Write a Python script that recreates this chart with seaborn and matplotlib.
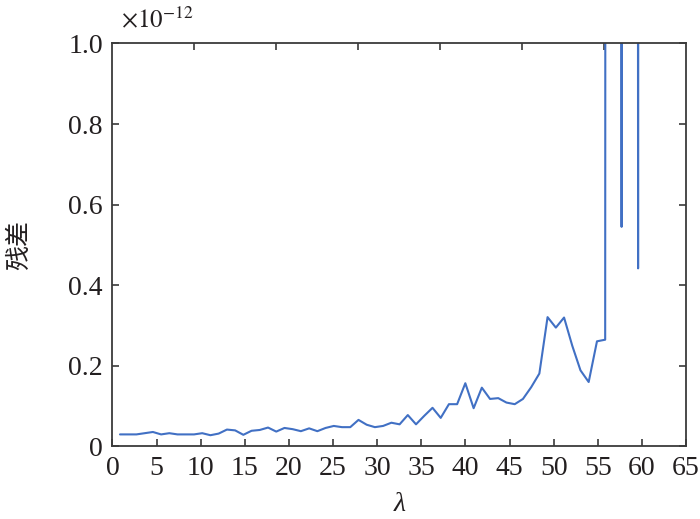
import numpy as np
import pandas as pd
import matplotlib
matplotlib.use("Agg")
import matplotlib.pyplot as plt
import seaborn as sns

# lambda samples (x) and residual values in units of 1e-12
lam = [0.85, 1.78, 2.71, 3.65, 4.58, 5.51, 6.44, 7.37, 8.31, 9.24,
       10.17, 11.10, 12.03, 12.97, 13.90, 14.83, 15.76, 16.69, 17.63, 18.56,
       19.49, 20.42, 21.35, 22.29, 23.22, 24.15, 25.08, 26.01, 26.95, 27.88,
       28.81, 29.74, 30.67, 31.61, 32.54, 33.47, 34.40, 35.33, 36.27, 37.20,
       38.13, 39.06, 39.99, 40.93, 41.86, 42.79, 43.72, 44.65, 45.59, 46.52,
       47.45, 48.38, 49.31, 50.25, 51.18, 52.11, 53.04, 53.97, 54.91, 55.84,
       56.77, 57.70, 58.63, 59.57, 60.50]
residual = [0.030, 0.030, 0.030, 0.033, 0.036, 0.030, 0.033, 0.030, 0.030, 0.030,
            0.033, 0.028, 0.032, 0.042, 0.040, 0.029, 0.039, 0.041, 0.047, 0.037,
            0.046, 0.043, 0.038, 0.045, 0.038, 0.046, 0.051, 0.048, 0.048, 0.066,
            0.054, 0.048, 0.051, 0.059, 0.055, 0.078, 0.055, 0.076, 0.096, 0.071,
            0.105, 0.105, 0.157, 0.095, 0.146, 0.118, 0.120, 0.109, 0.105, 0.118,
            0.147, 0.181, 0.321, 0.295, 0.320, 0.250, 0.189, 0.160, 0.261, 0.265,
            50.0, 0.545, 50.0, 0.442, 50.0]

x_ticks = list(range(0, 70, 5))
y_ticks = [0, 0.2, 0.4, 0.6, 0.8, 1.0]
y_tick_labels = ["0", "0.2", "0.4", "0.6", "0.8", "1.0"]
top_ticks = [9.29, 18.57, 27.86, 37.14, 46.43, 55.71]

sns.set_theme(style="ticks")
plt.rcParams["font.family"] = ["Liberation Serif", "Noto Sans CJK SC", "DejaVu Sans"]
plt.rcParams["mathtext.fontset"] = "stix"

ink = "#231f20"
df = pd.DataFrame({"lam": lam, "res": residual})

fig = plt.figure(figsize=(7.0, 5.19), dpi=100)
ax = fig.add_axes([0.1607, 0.1397, 0.8193, 0.7765])

sns.lineplot(data=df, x="lam", y="res", ax=ax, color="#4170c4",
             linewidth=1.5, estimator=None, sort=False)

ax.set_xlim(0, 65)
ax.set_ylim(0, 1.0)
ax.set_xticks(x_ticks)
ax.set_yticks(y_ticks)
ax.set_yticklabels(y_tick_labels)

for side in ["top", "right", "bottom", "left"]:
    ax.spines[side].set_visible(True)
    ax.spines[side].set_color("#3a3a3a")
    ax.spines[side].set_linewidth(1.3)

ax.tick_params(axis="both", direction="in", length=5, width=1.2,
               colors="#3a3a3a", labelcolor=ink, labelsize=20, pad=7)
ax.tick_params(axis="y", right=True, labelright=False)

sec = ax.secondary_xaxis("top")
sec.set_xticks(top_ticks)
sec.set_xticklabels([])
sec.tick_params(direction="in", length=5, width=1.2, colors="#3a3a3a")
sec.spines["top"].set_visible(False)

ax.set_xlabel("λ", fontsize=20, style="italic", color=ink)
ax.xaxis.set_label_coords(0.5, -0.112)
ax.set_ylabel("残差", fontsize=18, color=ink,
              family=["Noto Sans CJK SC", "DejaVu Sans"])
ax.yaxis.set_label_coords(-0.14, 0.5)

ax.text(0.014, 1.04, r"$\times10^{-12}$", transform=ax.transAxes,
        fontsize=18, color=ink, ha="left", va="baseline")

fig.savefig("out.png", dpi=100)
